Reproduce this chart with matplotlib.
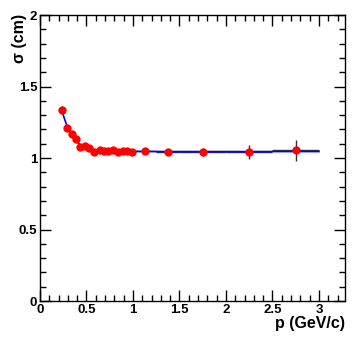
import numpy as np
import matplotlib.pyplot as plt
from matplotlib.ticker import MultipleLocator

# measured resolution vs momentum
p = [0.24, 0.29, 0.34, 0.39, 0.43, 0.48, 0.53, 0.58, 0.64, 0.69, 0.73,
     0.79, 0.84, 0.89, 0.94, 0.99, 1.125, 1.375, 1.75, 2.25, 2.75]
sigma = [1.336, 1.212, 1.165, 1.133, 1.079, 1.084, 1.068, 1.040, 1.056, 1.051, 1.051,
         1.056, 1.040, 1.049, 1.049, 1.042, 1.051, 1.042, 1.042, 1.042, 1.053]
p_err = [0.025] * 16 + [0.125, 0.125, 0.25, 0.25, 0.25]
sigma_err = [0.025, 0.022, 0.02, 0.02, 0.02, 0.02, 0.02, 0.02, 0.02, 0.02, 0.02,
             0.02, 0.02, 0.02, 0.02, 0.02, 0.022, 0.022, 0.025, 0.05, 0.072]

# fit curve
fit_p = [0.23, 0.26, 0.29, 0.32, 0.36, 0.40, 0.45, 0.50, 0.60, 0.70, 0.80, 1.0, 1.5, 3.0]
fit_s = [1.345, 1.28, 1.225, 1.18, 1.14, 1.11, 1.085, 1.07, 1.056, 1.05, 1.047, 1.046, 1.045, 1.045]

fig = plt.figure(figsize=(3.54, 3.41), dpi=100, facecolor='white')
ax = fig.add_axes([0.113, 0.1173, 0.8616, 0.8387])

ax.errorbar(p, sigma, xerr=p_err, yerr=sigma_err, fmt='none', ecolor='#333333',
            elinewidth=1.0, capsize=0, zorder=2)
ax.plot(fit_p, fit_s, color='#0000ff', linewidth=1.2, zorder=3)
ax.plot(p, sigma, 'o', color='#ff0000', markersize=6, markeredgewidth=0, zorder=4)

ax.set_xlim(0, 3.28)
ax.set_ylim(0, 2)

ax.xaxis.set_major_locator(MultipleLocator(0.5))
ax.xaxis.set_minor_locator(MultipleLocator(0.1))
ax.yaxis.set_major_locator(MultipleLocator(0.5))
ax.yaxis.set_minor_locator(MultipleLocator(0.1))
ax.xaxis.set_major_formatter(plt.FuncFormatter(lambda v, _: f'{v:g}'))
ax.yaxis.set_major_formatter(plt.FuncFormatter(lambda v, _: f'{v:g}'))

ax.tick_params(which='both', direction='in', top=True, right=True, width=1.0,
               labelsize=9.5, pad=2)
ax.tick_params(which='major', length=8)
ax.tick_params(which='minor', length=4)
for lab in ax.get_xticklabels() + ax.get_yticklabels():
    lab.set_fontfamily('Liberation Sans')
    lab.set_fontweight('bold')
for s in ax.spines.values():
    s.set_linewidth(1.0)

ax.set_xlabel('p (GeV/c)', fontsize=11.5, fontweight='bold', family='Liberation Sans',
              loc='right', labelpad=0)
fig.text(19.5 / 354, 1 - 14 / 341, 'σ (cm)', rotation=90, ha='center', va='top',
         fontsize=11.5, fontweight='bold', family='Liberation Sans')

fig.savefig('out.png', dpi=100, facecolor='white')
